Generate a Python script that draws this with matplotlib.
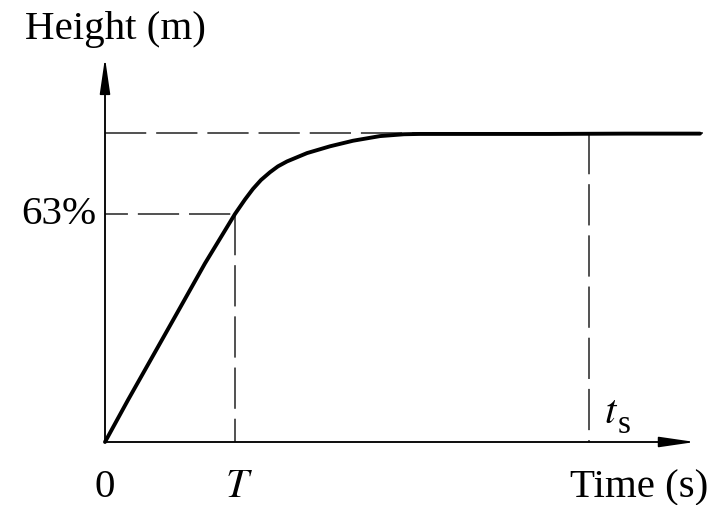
import matplotlib
matplotlib.use("Agg")
import matplotlib.pyplot as plt

# step response (time in units of T, height as fraction of final)
t = [0.0, 0.177, 0.385, 0.562, 0.769, 1.0, 1.077, 1.138, 1.2, 1.269, 1.33, 1.4,
     1.554, 1.731, 1.908, 2.115, 2.3, 2.423, 3.0, 3.42, 4.0, 4.577]
h = [0.0, 0.136, 0.291, 0.423, 0.578, 0.738, 0.785, 0.819, 0.848, 0.873, 0.892, 0.908,
     0.935, 0.957, 0.975, 0.990, 0.996, 0.997, 0.997, 0.997, 0.998, 0.998]

T = 1.0
h_T = 0.738
ts = 3.723
h_final = 1.0
x_end = 4.538
y_end = 1.243

plt.rcParams['font.family'] = ['Liberation Serif', 'DejaVu Serif']

fig = plt.figure(figsize=(7.14, 5.06), dpi=100)
ax = fig.add_axes([0, 0, 1, 1])
ax.set_xlim(-0.8077, 4.6846)
ax.set_ylim(-0.2039, 1.4337)
ax.axis('off')

axcol = '#555555'
arrow = dict(arrowstyle='-|>,head_length=1.1,head_width=0.16', color='black',
             lw=1.2, mutation_scale=20, shrinkA=0, shrinkB=0)
ax.annotate('', xy=(0, y_end), xytext=(0, 0), arrowprops=arrow)
ax.annotate('', xy=(x_end, 0), xytext=(0, 0), arrowprops=arrow)
ax.plot([0, 0], [0, 1.17], color=axcol, lw=1.2)
ax.plot([0, 4.4], [0, 0], color=axcol, lw=1.2)

dash = (0, (27, 6.5))
ax.plot([0, 4.6], [h_final, h_final], color='#222222', lw=1.1, linestyle=dash)
ax.plot([0, T], [h_T, h_T], color='#222222', lw=1.1, linestyle=(12, (27, 6.5)))
ax.plot([T, T], [h_T, 0], color='#222222', lw=1.1, linestyle=dash)
ax.plot([ts, ts], [h_final, 0], color='#222222', lw=1.1, linestyle=dash)

ax.plot(t, h, color='black', lw=2.8, solid_capstyle='round', solid_joinstyle='round')

fs = 29.5
ax.text(0.077, 1.338, 'Height (m)', fontsize=fs, ha='center', va='center')
ax.text(-0.065, h_T, '63%', fontsize=fs, ha='right', va='center')
ax.text(0, -0.175, '0', fontsize=fs, ha='center', va='baseline')
ax.text(1.027, -0.175, r'$T$', fontsize=fs, ha='center', va='baseline', math_fontfamily='stix')
ax.text(4.105, -0.175, 'Time (s)', fontsize=fs, ha='center', va='baseline')
ax.text(3.892, 0.065, r'$t$', fontsize=fs, ha='center', va='baseline', math_fontfamily='stix')
ax.text(3.992, 0.032, 's', fontsize=24, ha='center', va='baseline')

fig.savefig('out.png', dpi=100)
